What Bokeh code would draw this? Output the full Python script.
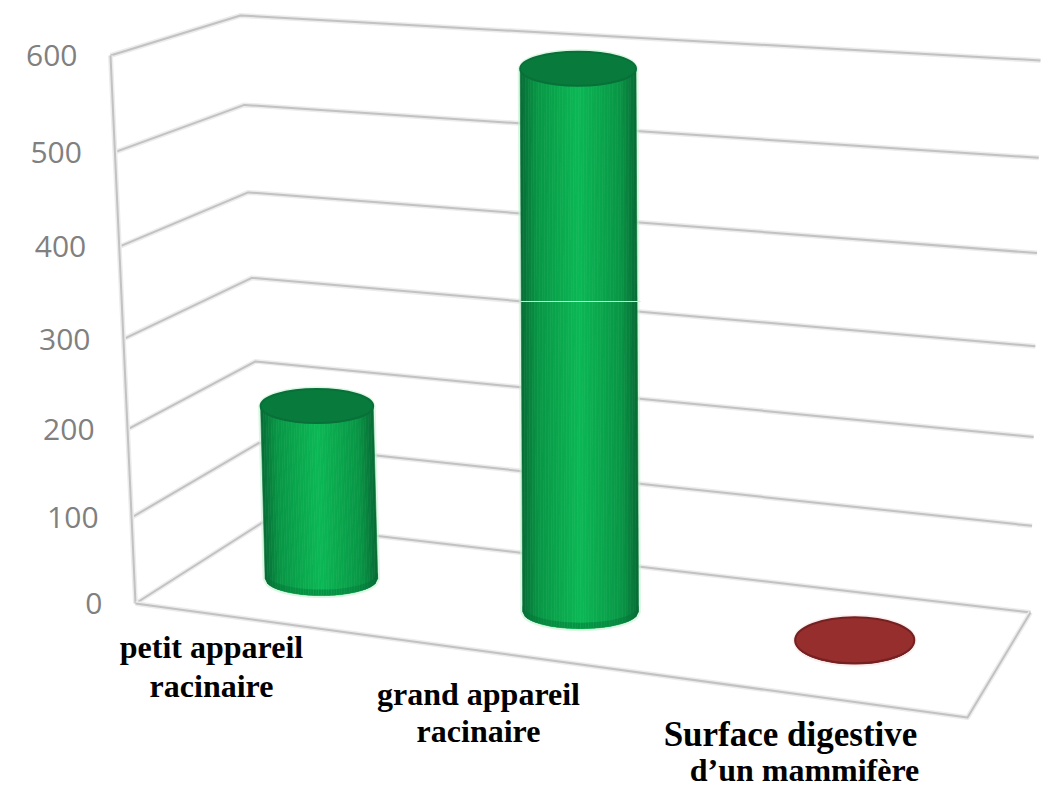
from bokeh.plotting import figure
from bokeh.embed import file_html
from bokeh.resources import INLINE
from bokeh.core.properties import value
import math

# ---- data ----
categories = ["petit appareil\nracinaire", "grand appareil\nracinaire", "Surface digestive\nd\u2019un mammif\u00e8re"]
series_values = [200, 600, 1]
tick_values = [0, 100, 200, 300, 400, 500, 600]
tick_labels = ["0", "100", "200", "300", "400", "500", "600"]
bar_colors = ["green", "green", "red"]

# ---- 3D frame projection (screen pixels) ----
VMAX = 600
FL0, FL6 = (135, 603), (110, 55)
BL0, BL6 = (262, 522), (240, 15)
BR0, BR6 = (1030, 612), (1040, 60)
FR0 = (967, 717)
DEPTHS = [0.5, 0.5, 0.55]
SLOTS = [0.153, 0.477, 0.815]


def lerp(a, b, t):
    return a + (b - a) * t


def frac(v, a):
    x = v / VMAX
    return a * x + (1 - a) * x * x


def wall(p0, p6, v, a=0.93):
    s = frac(v, a)
    return lerp(p0[0], p6[0], s), lerp(p0[1], p6[1], s)


def floor_pt(t, d):
    lx, ly = lerp(FL0[0], BL0[0], d), lerp(FL0[1], BL0[1], d)
    rx, ry = lerp(FR0[0], BR0[0], d), lerp(FR0[1], BR0[1], d)
    return lerp(lx, rx, t), lerp(ly, ry, t)


def mix(c1, c2, t):
    return "#%02x%02x%02x" % tuple(round(lerp(a, b, t)) for a, b in zip(c1, c2))


p = figure(width=1058, height=787, x_range=(0, 1058), y_range=(787, 0),
           output_backend="svg", toolbar_location=None, min_border=0,
           background_fill_color="white", border_fill_color="white", outline_line_color=None)
p.axis.visible = False
p.grid.visible = False


def stroke(xs, ys, w=2.0):
    p.line(xs, ys, line_color="#ececec", line_width=w + 3, line_join="round")
    p.line(xs, ys, line_color="#c2c2c2", line_width=w, line_join="round")


for v in tick_values:
    f = wall(FL0, FL6, v)
    b = wall(BL0, BL6, v)
    r = wall(BR0, BR6, v)
    stroke([f[0], b[0], r[0]], [f[1], b[1], r[1]])

stroke([wall(FL0, FL6, v)[0] for v in tick_values], [wall(FL0, FL6, v)[1] for v in tick_values])
stroke([FL0[0], FR0[0], BR0[0]], [FL0[1], FR0[1], BR0[1]])

# tick labels follow the slanted axis
for v, lab in zip(tick_values, tick_labels):
    ax, ay = wall(FL0, FL6, v)
    p.text([ax - 33], [ay], text=[lab], text_align="right", text_baseline="middle",
           text_font=value("Open Sans"), text_font_size="30px", text_color="#808080")

# cylinders
PALETTE = {
    "green": dict(edge=(8, 108, 54), mid=(9, 150, 70), center=(12, 184, 86), cap=(8, 128, 62), glow="#c4f3d3", foot=(8, 144, 68)),
    "red": dict(edge=(105, 28, 28), mid=(140, 40, 40), center=(160, 50, 50), cap=(165, 52, 52), glow="#f8e4e4", foot=(120, 34, 34)),
}
N = 44
RY = 17
for t, d, v, kind in zip(SLOTS, DEPTHS, series_values, bar_colors):
    pal = PALETTE[kind]
    cx, base = floor_pt(t, d)
    span = lerp(FL0[1] - FL6[1] - 16, BR0[1] - BR6[1] + 3, t)
    h = span * frac(v, 0.95)
    rx = 55.5 + 5 * t
    ry = 23 if kind == "red" else RY
    top = base - h
    lean = -4.5 * frac(v, 0.95) / max(frac(200, 0.95), 0.01) if v <= 200 else -2.5
    us = [-1 + 2 * i / N for i in range(N + 1)]
    sil_x = [cx + lean + rx * u for u in us] + [cx + rx * u for u in reversed(us)]
    sil_y = [top - ry * math.sqrt(max(0, 1 - u * u)) for u in us] + [base + ry * math.sqrt(max(0, 1 - u * u)) for u in reversed(us)]
    p.patch(sil_x, sil_y, fill_color=pal["glow"], line_color=pal["glow"], line_width=5, line_alpha=0.6)
    for i in range(N):
        u0, u1 = us[i], us[i + 1]
        um = (u0 + u1) / 2
        a = abs(um)
        if a > 0.72:
            col = mix(pal["mid"], pal["edge"], (a - 0.72) / 0.28)
        else:
            col = mix(pal["center"], pal["mid"], a / 0.72)
        s0 = math.sqrt(max(0, 1 - u0 * u0))
        s1 = math.sqrt(max(0, 1 - u1 * u1))
        xs = [cx + lean + rx * u0, cx + lean + rx * u1, cx + rx * u1, cx + rx * u0]
        ys = [top + ry * s0, top + ry * s1, base + ry * s1, base + ry * s0]
        p.patch(xs, ys, fill_color=col, line_color=col, line_width=0.6)
        ys2 = [base + ry * s0 - 6, base + ry * s1 - 6, base + ry * s1, base + ry * s0]
        xs2 = [cx + rx * u0, cx + rx * u1, cx + rx * u1, cx + rx * u0]
        p.patch(xs2, ys2, fill_color=mix(pal["foot"], pal["edge"], a ** 3), line_color=None)
    p.ellipse([cx + lean], [top], width=[2 * rx], height=[2 * ry], fill_color=mix(pal["edge"], pal["cap"], 0.75),
              line_color=mix(pal["edge"], pal["cap"], 0.2), line_width=2)

# thin pale scan line across the tall bar
i_tall = series_values.index(max(series_values))
tx = floor_pt(SLOTS[i_tall], DEPTHS[i_tall])[0]
p.line([tx - 60, tx + 60], [301, 301], line_color="#cfe8d8", line_width=1)

# category labels: one placement per text line
LABEL_POS = [[(211, 646), (211, 685)], [(478, 693), (478, 730)], [(790, 734), (804, 769)]]
LABEL_SIZE = [["32px", "32px"], ["32px", "32px"], ["35px", "32px"]]
for places, sizes, cat in zip(LABEL_POS, LABEL_SIZE, categories):
    for (lx, ly), size, line in zip(places, sizes, cat.split("\n")):
        p.text([lx], [ly], text=[line], text_align="center", text_baseline="middle",
               text_font=value("Liberation Serif"), text_font_style="bold", text_font_size=size, text_color="black")

open("out.html", "w").write(file_html(p, INLINE))
